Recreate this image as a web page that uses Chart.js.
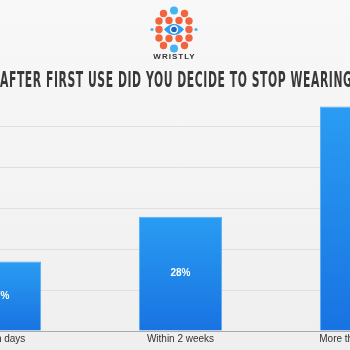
<!DOCTYPE html>
<html>
<head>
<meta charset="utf-8">
<script src="https://cdn.jsdelivr.net/npm/chart.js@4.4.1/dist/chart.umd.min.js"></script>
<style>
  html, body { margin: 0; padding: 0; }
  body {
    width: 350px; height: 350px; overflow: hidden; position: relative;
    background: linear-gradient(#f8f8f8, #efefef);
  }
  #wrap { position: absolute; left: -91px; top: 0; width: 543px; height: 350px; }
</style>
</head>
<body>
<div id="wrap"><canvas id="chart"></canvas></div>
<script>
// Survey answers and share of respondents (%)
const categories = ['Within days', 'Within 2 weeks', 'More than 2 weeks'];
const shares = [17, 28, 55];
const valueLabels = ['17%', '28%', '55%'];
const axisMax = 60;
const axisStep = 10;

const titleText = 'HOW LONG AFTER FIRST USE DID YOU DECIDE TO STOP WEARING IT?';
const titleLead = 'HOW LONG ';
const brandName = 'WRISTLY';

// canvas is shifted left, so page x = canvas x - SHIFT
const SHIFT = 91;

function barFill(ctx) {
  const chart = ctx.chart;
  if (!chart.chartArea || ctx.raw === undefined) return '#2188ea';
  const y = chart.scales.y;
  const top = y.getPixelForValue(ctx.raw);
  const bottom = y.getPixelForValue(0);
  const g = chart.ctx.createLinearGradient(0, top, 0, bottom);
  g.addColorStop(0, '#2a9cf2');
  g.addColorStop(1, '#1873e2');
  return g;
}

// Title and brand mark above the plot
const headerPlugin = {
  id: 'header',
  afterDraw(chart) {
    const ctx = chart.ctx;
    ctx.save();
    ctx.translate(SHIFT, 0);

    // logo: ring of dots around an eye
    const cx = 174, cy = 29.5;
    const orange = '#f2643e';
    const dots = [
      [-10.5, -16], [10.5, -16],
      [-15, -8.5], [-5, -9], [5, -9], [15, -8.5],
      [-15, 0], [15, 0],
      [-15, 8.5], [-5, 9], [5, 9], [15, 8.5],
      [-10.5, 16], [10.5, 16]
    ];
    ctx.fillStyle = orange;
    dots.forEach(([dx, dy]) => {
      ctx.beginPath();
      ctx.arc(cx + dx, cy + dy, 3.7, 0, Math.PI * 2);
      ctx.fill();
    });
    ctx.fillStyle = '#44b4f2';
    [[0, -19, 4], [0, 19, 4], [-22, 0, 1.6], [22, 0, 1.6]].forEach(([dx, dy, r]) => {
      ctx.beginPath();
      ctx.arc(cx + dx, cy + dy, r, 0, Math.PI * 2);
      ctx.fill();
    });
    // eye
    ctx.fillStyle = '#2f9ef0';
    ctx.beginPath();
    ctx.moveTo(cx - 10, cy);
    ctx.quadraticCurveTo(cx, cy - 11, cx + 10, cy);
    ctx.quadraticCurveTo(cx, cy + 11, cx - 10, cy);
    ctx.fill();
    ctx.fillStyle = '#ffffff';
    ctx.beginPath();
    ctx.arc(cx, cy, 4.2, 0, Math.PI * 2);
    ctx.fill();
    ctx.fillStyle = '#1d63c4';
    ctx.beginPath();
    ctx.arc(cx, cy, 2.8, 0, Math.PI * 2);
    ctx.fill();

    ctx.fillStyle = '#333333';
    ctx.font = 'bold 8px "Liberation Sans", Arial, sans-serif';
    ctx.letterSpacing = '1px';
    ctx.textAlign = 'center';
    ctx.textBaseline = 'alphabetic';
    ctx.fillText(brandName, cx + 0.5, 58.5);

    // condensed headline
    ctx.font = 'bold 21px "Liberation Sans Narrow", "DejaVu Sans Condensed", "Liberation Sans", sans-serif';
    ctx.letterSpacing = '1px';
    ctx.textAlign = 'left';
    const visible = titleText.slice(titleLead.length, titleText.indexOf('WEARIN') + 6);
    const sx = 343 / ctx.measureText(visible).width;
    const lead = ctx.measureText(titleLead).width;
    ctx.scale(sx, 1);
    ctx.fillStyle = '#383838';
    ctx.fillText(titleText, -lead, 87);
    ctx.restore();
  }
};

// Percent text centred inside each bar
const barValuePlugin = {
  id: 'barValues',
  afterDatasetsDraw(chart) {
    const ctx = chart.ctx;
    const meta = chart.getDatasetMeta(0);
    ctx.save();
    ctx.fillStyle = '#ffffff';
    ctx.font = 'bold 10px "Liberation Sans", Arial, sans-serif';
    ctx.textAlign = 'center';
    ctx.textBaseline = 'middle';
    meta.data.forEach((bar, i) => {
      ctx.fillText(valueLabels[i], bar.x, (bar.y + bar.base) / 2);
    });
    ctx.restore();
  }
};

new Chart(document.getElementById('chart'), {
  type: 'bar',
  data: {
    labels: categories,
    datasets: [{
      data: shares,
      backgroundColor: barFill,
      borderColor: '#55acf4',
      borderWidth: { top: 1, left: 1, right: 1, bottom: 0 },
      borderSkipped: false,
      categoryPercentage: 1,
      barPercentage: 0.46
    }]
  },
  options: {
    responsive: true,
    maintainAspectRatio: false,
    animation: false,
    layout: { padding: { top: 86, bottom: 3, left: 0, right: 0 } },
    plugins: {
      legend: { display: false },
      tooltip: { enabled: false }
    },
    scales: {
      x: {
        grid: { display: false, drawTicks: false },
        border: { display: true, color: '#a9a9a9', width: 1 },
        ticks: {
          color: '#333333',
          padding: 2,
          font: { family: '"Liberation Sans", Arial, sans-serif', size: 10 }
        }
      },
      y: {
        min: 0,
        max: axisMax,
        ticks: { display: false, stepSize: axisStep },
        border: { display: false },
        grid: {
          drawTicks: false,
          lineWidth: 1,
          color: (c) => (c.tick && (c.tick.value === 0 || c.tick.value >= axisMax)) ? 'rgba(0,0,0,0)' : '#dfdfdf'
        }
      }
    }
  },
  plugins: [headerPlugin, barValuePlugin]
});
</script>
</body>
</html>
